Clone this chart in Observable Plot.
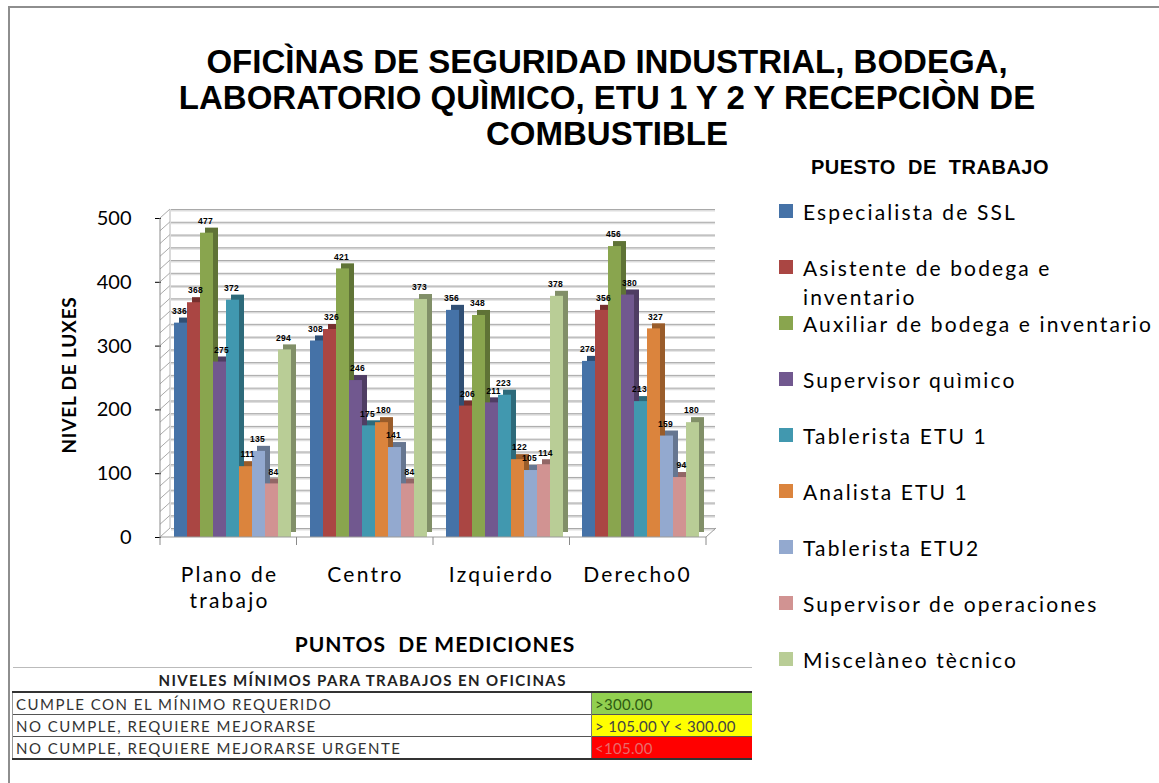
<!DOCTYPE html>
<html><head><meta charset="utf-8">
<script src="https://cdn.jsdelivr.net/npm/d3@7"></script>
<script src="https://cdn.jsdelivr.net/npm/@observablehq/plot@0.6"></script>
<style>
body{margin:0;background:#fff;}
#page{position:relative;width:1159px;height:783px;overflow:hidden;font-family:Lato,sans-serif;background:#fff;}
#frame{position:absolute;left:8px;top:6px;width:1200px;height:820px;border:2px solid #8e8e8e;}
#title{position:absolute;left:107px;width:1000px;top:44px;text-align:center;font-family:"Liberation Sans",Arial,sans-serif;font-weight:bold;font-size:33px;line-height:36px;color:#000;white-space:nowrap;}
#chart{position:absolute;left:0;top:150px;}
#ylab{position:absolute;left:68px;top:375px;transform:translate(-50%,-50%) rotate(-90deg);font-weight:bold;font-size:19px;letter-spacing:0.8px;white-space:nowrap;}
#xlab{position:absolute;left:435px;top:643px;transform:translate(-50%,-50%);font-weight:bold;font-size:21px;letter-spacing:1px;white-space:pre;}
#legtitle{position:absolute;left:930px;top:167px;transform:translate(-50%,-50%);font-family:"Liberation Sans",Arial,sans-serif;font-weight:bold;font-size:20px;letter-spacing:0.5px;white-space:pre;}
.item{position:absolute;left:779px;width:380px;height:28px;}
.sw{position:absolute;left:0;top:7px;width:14px;height:14px;}
.lt{position:absolute;left:24px;top:0;line-height:29px;font-size:21px;white-space:nowrap;color:#000;}
#tbl{position:absolute;left:12px;top:667px;border-collapse:collapse;width:740px;font-size:15px;letter-spacing:1.5px;color:#333;}
#tbl td{height:21px;padding:0 3px;border-top:1px solid #555;white-space:nowrap;}
#tbl tr.h td{font-weight:bold;font-size:15px;letter-spacing:1.4px;color:#222;border-top:1px solid #bbb;border-bottom:2px solid #333;height:23px;}
#tbl tr:last-child td{border-bottom:2px solid #333;}
</style></head><body>
<div id="page">
<div id="frame"></div>
<div id="title"></div>
<div id="chart"></div>
<div id="ylab"></div>
<div id="xlab"></div>
<div id="legtitle"></div>
<div id="legend"></div>
<table id="tbl"></table>
</div>
<script>
const titleLines = ["OFICÌNAS DE SEGURIDAD INDUSTRIAL, BODEGA,", "LABORATORIO QUÌMICO, ETU 1 Y 2 Y RECEPCIÒN DE", "COMBUSTIBLE"];
const yAxisTitle = "NIVEL DE LUXES";
const xAxisTitle = "PUNTOS  DE MEDICIONES";
const legendTitle = "PUESTO  DE  TRABAJO";
const categories = ["Plano de trabajo", "Centro", "Izquierdo", "Derecho0"];
const tickLabels = ["Plano de\ntrabajo", "Centro", "Izquierdo", "Derecho0"];
const series = ["Especialista de SSL", "Asistente de bodega e inventario", "Auxiliar de bodega e inventario", "Supervisor quìmico", "Tablerista ETU 1", "Analista ETU 1", "Tablerista ETU2", "Supervisor de operaciones", "Miscelàneo tècnico"];
const colors = ["#4572A7", "#AA4643", "#89A54E", "#71588F", "#4198AF", "#DB843D", "#93A9CF", "#D19392", "#B9CD96"];
const vEspecialista = [336, 308, 356, 276];
const vAsistente = [368, 326, 206, 356];
const vAuxiliar = [477, 421, 348, 456];
const vSupervisorQuimico = [275, 246, 211, 380];
const vTablerista1 = [372, 175, 223, 213];
const vAnalista1 = [111, 180, 122, 327];
const vTablerista2 = [135, 141, 105, 159];
const vSupervisorOper = [84, 84, 114, 94];
const vMiscelaneo = [294, 373, 378, 180];
const yTicks = [0, 100, 200, 300, 400, 500];
const gridValues = [0, 20, 40, 60, 80, 100, 120, 140, 160, 180, 200, 220, 240, 260, 280, 300, 320, 340, 360, 380, 400, 420, 440, 460, 480, 500];
const tableHeader = "NIVELES MÍNIMOS PARA TRABAJOS EN OFICINAS";
const tableLabels = ["CUMPLE CON EL MÍNIMO REQUERIDO", "NO CUMPLE, REQUIERE MEJORARSE", "NO CUMPLE, REQUIERE MEJORARSE URGENTE"];
const tableRanges = [">300.00", "> 105.00 Y < 300.00", "<105.00"];
const tableColors = ["#92D050", "#FFFF00", "#FF0000"];
const tableTextColors = ["#2e5a12", "#444", "#e86a6a"];

const seriesValues = [vEspecialista, vAsistente, vAuxiliar, vSupervisorQuimico, vTablerista1, vAnalista1, vTablerista2, vSupervisorOper, vMiscelaneo];
const rows = categories.flatMap((c, i) => series.map((s, j) => ({cat: c, series: s, k: j, value: seriesValues[j][i]})));
const evenRows = rows.filter(d => d.k % 2 === 0);
const oddRows = rows.filter(d => d.k % 2 === 1);

d3.select("#title").html(titleLines.join("<br>"));
d3.select("#ylab").text(yAxisTitle);
d3.select("#xlab").text(xAxisTitle);
d3.select("#legtitle").text(legendTitle);

const labelStyle = {fx: "cat", x: "series", y: "value", text: d => String(d.value), dy: -12, fontSize: 8.5, fontWeight: "bold", fill: "#000", fontFamily: "Liberation Sans, Arial, sans-serif"};

const chart = Plot.plot({
  width: 740, height: 500,
  marginLeft: 160, marginRight: 34, marginTop: 68, marginBottom: 113,
  style: {fontFamily: "Lato, sans-serif", fontSize: "20px", background: "transparent", color: "#000"},
  fx: {domain: categories, padding: 0, axis: null},
  x: {domain: series, paddingInner: 0, paddingOuter: 0.71, align: 0.68, axis: null},
  y: {domain: [0, 500], ticks: yTicks, tickSize: 6, tickPadding: 24, label: null},
  color: {domain: series, range: colors},
  marks: [
    Plot.ruleY(gridValues, {y: d => d, dx: 10, dy: -8, stroke: "#dedede", strokeWidth: 2}),
    Plot.ruleY(gridValues, {y: d => d, dx: 10, dy: -9, stroke: "#a9a9a9", strokeWidth: 1}),
    Plot.barY(rows, {fx: "cat", x: "series", y: "value", fill: "series", dx: 5, dy: -5}),
    Plot.barY(rows, {fx: "cat", x: "series", y: "value", fill: "#000", fillOpacity: 0.3, dx: 5, dy: -5}),
    Plot.barY(rows, {fx: "cat", x: "series", y: "value", fill: "series"}),
    Plot.text(evenRows, {...labelStyle, dx: -1.5}),
    Plot.text(oddRows, {...labelStyle, dx: 1.5}),
    Plot.text(categories, {fx: d => d, text: (d, i) => tickLabels[i], frameAnchor: "bottom", lineAnchor: "top", dy: 27, lineHeight: 1.2, fontSize: 21, fill: "#000"})
  ]
});
document.getElementById("chart").appendChild(chart);

// letter spacing for text marks (value labels and category labels)
const textGroups = d3.select(chart).selectAll('g[aria-label="text"]').nodes();
textGroups.forEach((n, i) => {
  const isCat = i >= textGroups.length - 4 && d3.select(n).selectAll("tspan").size() > 0 || d3.select(n).text().includes("Centro");
  d3.select(n).selectAll("text").style("letter-spacing", isCat ? "2.2px" : "0.3px");
});

// 3D wall / floor decorations drawn with the plot's own scales
const yd = chart.scale("y");
const y = d3.scaleLinear(yd.domain, yd.range);
const fxd = chart.scale("fx");
const fxs = d3.scaleBand(fxd.domain, fxd.range).paddingInner(0).paddingOuter(0);
const X0 = fxd.range[0], X1 = fxd.range[1];
const svg = d3.select(chart);
const g = svg.insert("g", ":first-child").attr("class", "deco");
const DX = 10, DY = -9;
gridValues.forEach(v => {
  g.append("line").attr("x1", X0).attr("y1", y(v)).attr("x2", X0 + DX).attr("y2", y(v) + DY).attr("stroke", "#a9a9a9");
});
g.append("line").attr("x1", X0 + DX).attr("x2", X0 + DX).attr("y1", y(0) + DY).attr("y2", y(500) + DY).attr("stroke", "#b5b5b5");
const g2 = svg.append("g").attr("class", "deco2");
g2.append("line").attr("x1", X0).attr("x2", X0).attr("y1", y(0)).attr("y2", y(500)).attr("stroke", "#8a8a8a");
g2.append("line").attr("x1", X0).attr("x2", X1).attr("y1", y(0)).attr("y2", y(0)).attr("stroke", "#9a9a9a");
g2.append("line").attr("x1", X1).attr("x2", X1 + DX).attr("y1", y(0)).attr("y2", y(0) + DY).attr("stroke", "#9a9a9a");
const bounds = fxd.domain.map(c => fxs(c)).concat([X1]);
bounds.forEach(b => {
  g2.append("line").attr("x1", b).attr("x2", b).attr("y1", y(0)).attr("y2", y(0) + 8).attr("stroke", "#8a8a8a");
});

// legend
const leg = d3.select("#legend");
series.forEach((s, i) => {
  const item = leg.append("div").attr("class", "item").style("top", (211 + 56 * i - 14) + "px");
  item.append("div").attr("class", "sw").style("background", colors[i]);
  item.append("div").attr("class", "lt").text(s);
});
const lts = leg.selectAll(".lt").nodes();
const ref = lts[2];
const w0 = ref.getBoundingClientRect().width;
const ls = (350 - w0) / series[2].length;
lts.forEach(n => { n.style.letterSpacing = ls + "px"; });
const wrapped = lts[1];
wrapped.style.whiteSpace = "normal";
wrapped.style.width = "354px";

// table
const tbl = d3.select("#tbl");
const hr = tbl.append("tr").attr("class", "h");
hr.append("td").attr("colspan", 2).style("padding-left", "146px").text(tableHeader);
tableLabels.forEach((t, i) => {
  const tr = tbl.append("tr");
  tr.append("td").style("width", "572px").style("border-left", "1px solid #999").text(t);
  tr.append("td").style("background", tableColors[i]).style("color", tableTextColors[i]).style("border-left", "1px solid #777").style("letter-spacing", "0.3px").text(tableRanges[i]);
});
</script>
</body></html>
